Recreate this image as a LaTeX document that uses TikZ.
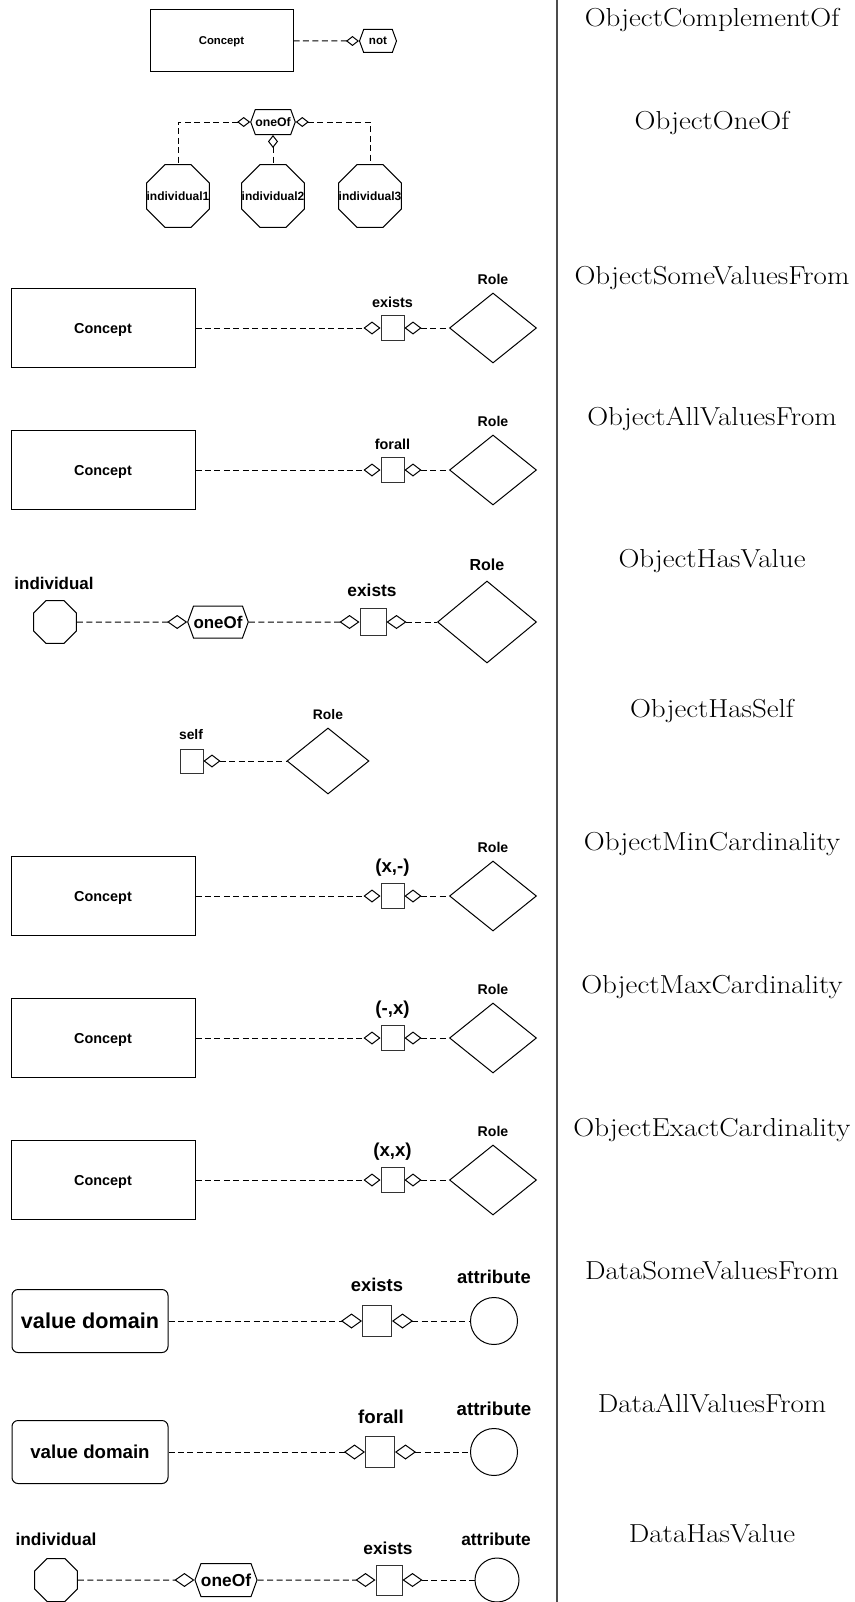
\documentclass[tikz,border=0pt]{standalone}
\usepackage{fontspec}
\usepackage{graphicx}
\setsansfont{Liberation Sans}
\usetikzlibrary{shapes.geometric,shapes.symbols,arrows.meta}
\newcommand\pxl[1]{#1*0.75pt}
\newcommand\wide[1]{\scalebox{1.115}[1]{#1}}
\tikzset{
  dsm/.tip={Diamond[open,length=9.75pt,width=7.5pt]},
  dmd/.tip={Diamond[open,length=12.75pt,width=9.75pt]},
  dlg/.tip={Diamond[open,length=15pt,width=10.5pt]},
  dxl/.tip={Diamond[open,length=15.75pt,width=11.25pt]},
}
\begin{document}
\begin{tikzpicture}[x=0.75pt,y=-0.75pt,line width=0.75pt,
  conn/.style={dash pattern=on 4.5pt off 2.6pt},
  txt/.style={inner sep=0pt, text depth=0pt, font=\sffamily\bfseries\fontsize{#1}{#1}\selectfont},
  title/.style={inner sep=0pt, font=\fontsize{19.5}{23}\selectfont},
  box/.style={draw, rectangle, inner sep=0pt},
  concept/.style={box, minimum width=\pxl{184}, minimum height=\pxl{79}, txt=10.8},
  sq/.style={draw=black!80, rectangle, inner sep=0pt, minimum width=\pxl{23}, minimum height=\pxl{25}},
  role/.style={draw, diamond, inner sep=0pt, minimum width=\pxl{87}, minimum height=\pxl{70}},
  hexa/.style={draw, signal, signal to=east and west, signal pointer angle=140, inner sep=0pt},
  octa/.style={draw, regular polygon, regular polygon sides=8, inner sep=0pt, minimum size=\pxl{#1}},
  attr/.style={draw, circle, inner sep=0pt, minimum size=\pxl{#1}},
  vdom/.style={draw, rectangle, rounded corners=4.5pt, inner sep=0pt, minimum width=\pxl{156}, minimum height=\pxl{63}},
]
\useasboundingbox (0,0) rectangle (855,1602);

% column divider
\coordinate (divtop) at (557,0);
\coordinate (divbot) at (557,1602);
\draw[line width=0.9pt, black!70] (divtop) -- (divbot);

% ObjectComplementOf
\node[box, minimum width=\pxl{143}, minimum height=\pxl{62}, txt=8.5] (c1) at (221.5,41) {Concept};
\node[hexa, minimum width=\pxl{37}, minimum height=\pxl{23}, txt=8.7] (n1) at (378,41) {not};
\draw[conn,-dsm] (c1) -- (n1);

% ObjectOneOf
\node[hexa, minimum width=\pxl{41}, minimum height=\pxl{25}, txt=9.2] (o2) at (273,122) {oneOf};
\node[octa=68] (i21) at (178,196) {};
\node[octa=68] (i22) at (273,196) {};
\node[octa=68] (i23) at (370,196) {};
\node[txt=9] (i21t) at (i21) {individual1};
\node[txt=9] (i22t) at (i22) {individual2};
\node[txt=9] (i23t) at (i23) {individual3};
\draw[conn,dsm-] (o2.west) -| (i21.north);
\draw[conn,dsm-] (o2.east) -| (i23.north);
\draw[conn,dsm-] (o2.south) -- (i22.north);

% ObjectSomeValuesFrom
\node[concept] (c3) at (103,328) {Concept};
\node[sq] (q3) at (392.5,328) {};
\node[role] (r3) at (493,328) {};
\node[txt=10.8] (q3l) at (392.5,302) {exists};
\node[txt=10.6] (r3l) at (493,279) {Role};
\draw[conn,-dmd] (c3) -- (q3);
\draw[conn,dmd-] (q3) -- (r3);

% ObjectAllValuesFrom
\node[concept] (c4) at (103,470) {Concept};
\node[sq] (q4) at (392.5,470) {};
\node[role] (r4) at (493,470) {};
\node[txt=10.8] (q4l) at (392.5,444) {forall};
\node[txt=10.6] (r4l) at (493,421) {Role};
\draw[conn,-dmd] (c4) -- (q4);
\draw[conn,dmd-] (q4) -- (r4);

% ObjectHasValue
\node[octa=46.5] (i5) at (55,622) {};
\node[txt=12.7] (i5l) at (54,583) {individual};
\node[hexa, minimum width=\pxl{55}, minimum height=\pxl{32}, txt=12.7] (o5) at (218,622) {oneOf};
\node[sq, minimum width=\pxl{26}, minimum height=\pxl{27}] (q5) at (373,622) {};
\node[txt=13] (q5l) at (372,590) {exists};
\node[role, minimum width=\pxl{99}, minimum height=\pxl{82}] (r5) at (487,622) {};
\node[txt=12] (r5l) at (487,565) {Role};
\draw[conn,-dlg] (i5) -- (o5);
\draw[conn,-dlg] (o5) -- (q5);
\draw[conn,dlg-] (q5) -- (r5);

% ObjectHasSelf
\node[sq, minimum height=\pxl{24}] (q6) at (191.5,761) {};
\node[txt=10.4] (q6l) at (191,734) {self};
\node[role, minimum width=\pxl{82}, minimum height=\pxl{66}] (r6) at (328,761) {};
\node[txt=10.4] (r6l) at (328,714) {Role};
\draw[conn,dmd-] (q6) -- (r6);

% ObjectMinCardinality
\node[concept] (c7) at (103,896) {Concept};
\node[sq] (q7) at (392.5,896) {};
\node[role] (r7) at (493,896) {};
\node[txt=14] (q7l) at (392.5,866) {(x,-)};
\node[txt=10.6] (r7l) at (493,847) {Role};
\draw[conn,-dmd] (c7) -- (q7);
\draw[conn,dmd-] (q7) -- (r7);

% ObjectMaxCardinality
\node[concept] (c8) at (103,1038) {Concept};
\node[sq] (q8) at (392.5,1038) {};
\node[role] (r8) at (493,1038) {};
\node[txt=14] (q8l) at (392.5,1008) {(-,x)};
\node[txt=10.6] (r8l) at (493,989) {Role};
\draw[conn,-dmd] (c8) -- (q8);
\draw[conn,dmd-] (q8) -- (r8);

% ObjectExactCardinality
\node[concept] (c9) at (103,1180) {Concept};
\node[sq] (q9) at (392.5,1180) {};
\node[role] (r9) at (493,1180) {};
\node[txt=14] (q9l) at (392.5,1150) {(x,x)};
\node[txt=10.6] (r9l) at (493,1131) {Role};
\draw[conn,-dmd] (c9) -- (q9);
\draw[conn,dmd-] (q9) -- (r9);

% DataSomeValuesFrom
\node[vdom, txt=16.2] (v10) at (90,1321) {value domain};
\node[sq, minimum width=\pxl{29}, minimum height=\pxl{31}] (q10) at (377,1321) {};
\node[txt=13.8] (q10l) at (377,1285) {exists};
\node[attr=47] (a10) at (494,1321) {};
\node[txt=13.8] (a10l) at (494,1277) {attribute};
\draw[conn,-dxl] (v10) -- (q10);
\draw[conn,dxl-] (q10) -- (a10);

% DataAllValuesFrom
\node[vdom, txt=14] (v11) at (90,1452) {value domain};
\node[sq, minimum width=\pxl{29}, minimum height=\pxl{31}] (q11) at (380,1452) {};
\node[txt=14] (q11l) at (381,1417) {forall};
\node[attr=47] (a11) at (494,1452) {};
\node[txt=14] (a11l) at (494,1409) {attribute};
\draw[conn,-dxl] (v11) -- (q11);
\draw[conn,dxl-] (q11) -- (a11);

% DataHasValue
\node[octa=46.5] (i12) at (56,1580) {};
\node[txt=13] (i12l) at (56,1539) {individual};
\node[hexa, minimum width=\pxl{56}, minimum height=\pxl{33}, txt=13] (o12) at (226,1580) {oneOf};
\node[sq, minimum width=\pxl{26}, minimum height=\pxl{30}] (q12) at (389,1580) {};
\node[txt=13] (q12l) at (388,1548) {exists};
\node[attr=44] (a12) at (497,1580) {};
\node[txt=13] (a12l) at (496,1539) {attribute};
\draw[conn,-dlg] (i12) -- (o12);
\draw[conn,-dlg] (o12) -- (q12);
\draw[conn,dlg-] (q12) -- (a12);

% construct names
\node[title] (t1) at (712,20) {\wide{ObjectComplementOf}};
\node[title] (t2) at (712,123) {\wide{ObjectOneOf}};
\node[title] (t3) at (712,278) {\wide{ObjectSomeValuesFrom}};
\node[title] (t4) at (712,419) {\wide{ObjectAllValuesFrom}};
\node[title] (t5) at (712,561) {\wide{ObjectHasValue}};
\node[title] (t6) at (712,711) {\wide{ObjectHasSelf}};
\node[title] (t7) at (712,844) {\wide{ObjectMinCardinality}};
\node[title] (t8) at (712,987) {\wide{ObjectMaxCardinality}};
\node[title] (t9) at (712,1130) {\wide{ObjectExactCardinality}};
\node[title] (t10) at (712,1271) {\wide{DataSomeValuesFrom}};
\node[title] (t11) at (712,1403) {\wide{DataAllValuesFrom}};
\node[title] (t12) at (712,1534) {\wide{DataHasValue}};
\end{tikzpicture}
\end{document}
